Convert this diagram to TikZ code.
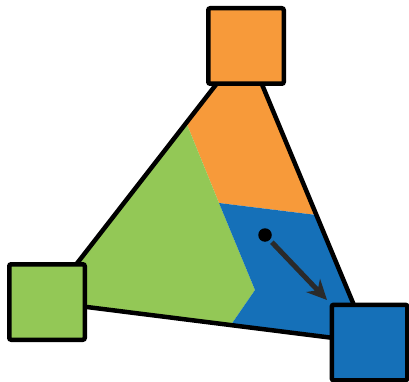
\documentclass[tikz,border=0pt]{standalone}
\definecolor{sqorange}{RGB}{247,154,58}
\definecolor{sqgreen}{RGB}{147,200,86}
\definecolor{sqblue}{RGB}{21,112,184}
\definecolor{arrgray}{RGB}{42,42,42}
\usepackage{xcolor}
\usepackage{tikz}
\usetikzlibrary{arrows.meta,calc}

\begin{document}
\begin{tikzpicture}[x=1pt, y=-1pt,
      sq/.style={draw, line width=4.5pt, rounded corners=2pt,
                 minimum size=75.5pt, inner sep=0pt},
      edge/.style={draw, line width=4.5pt, line join=round},
      arr/.style={-{Stealth[length=20pt, width=19pt]}, line width=5pt, color=arrgray}
  ]
    \useasboundingbox (0,0) rectangle (409,382);
    \coordinate (pt) at (246,46);
    \coordinate (pl) at (47,302);
    \coordinate (pr) at (369.5,342.5);
    \coordinate (a) at ($(pt)!0.30!(pl)$);
    \coordinate (b) at ($(pt)!0.57!(pr)$);
    \coordinate (c) at ($(pl)!0.57!(pr)$);
    \coordinate (m) at (219,203);
    \coordinate (k) at (255,290);
    \fill[sqorange] (pt) -- (a) -- (m) -- (b) -- cycle;
    \fill[sqgreen] (pl) -- (a) -- (m) -- (k) -- (c) -- cycle;
    \fill[sqblue] (pr) -- (b) -- (m) -- (k) -- (c) -- cycle;
    \path[edge] (pt) -- (pl) -- (pr) -- cycle;
    \node[sq, fill=sqorange] (top) at (pt) {};
    \node[sq, fill=sqgreen] (left) at (pl) {};
    \node[sq, fill=sqblue] (right) at (pr) {};
    \node[circle, fill=black, minimum size=13.5pt, inner sep=0pt] (dot) at (265,235) {};
    \coordinate (tip) at (327,300);
    \draw[arr, shorten <=3pt] (dot) -- (tip);
  \end{tikzpicture}
\end{document}
